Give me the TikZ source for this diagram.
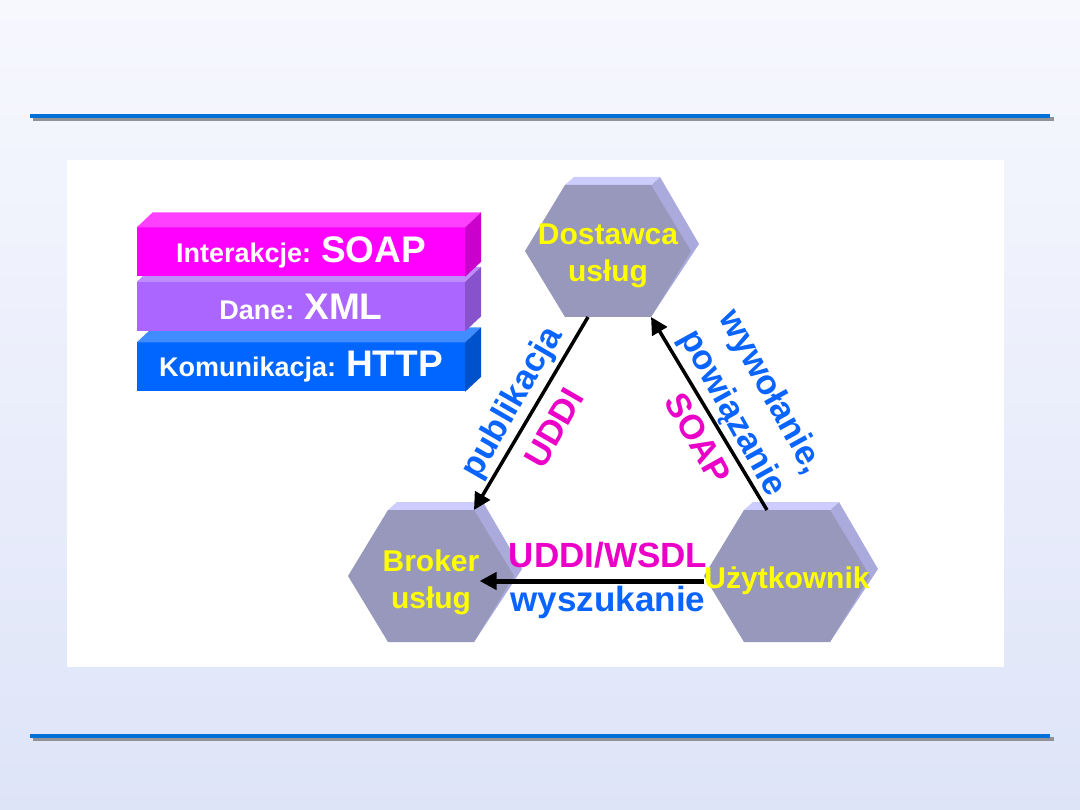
\documentclass[tikz,border=0pt]{standalone}
\usepackage{fontspec}
\setmainfont{Liberation Sans}
\usetikzlibrary{arrows.meta, positioning, calc}
\definecolor{slidetop}{RGB}{247,248,254}
\definecolor{slidebot}{RGB}{222,228,248}
\definecolor{rulecol}{RGB}{0,112,216}
\definecolor{rulesh}{RGB}{145,145,150}
\definecolor{hexfront}{RGB}{152,152,188}
\definecolor{hextop}{RGB}{204,204,255}
\definecolor{hexside}{RGB}{170,170,221}
\definecolor{hexyellow}{RGB}{255,255,0}
\definecolor{txtblue}{RGB}{10,100,255}
\definecolor{txtpink}{RGB}{235,0,200}
\definecolor{soapcol}{RGB}{255,0,255}
\definecolor{xmlcol}{RGB}{170,102,255}
\definecolor{httpcol}{RGB}{0,102,255}
\newcommand{\layertext}[2]{{\fontsize{27}{30}\selectfont #1: }{\fontsize{37}{40}\selectfont #2}}

\begin{document}
\begin{tikzpicture}[x=1pt, y=-1pt,
  arrow/.style={-{Triangle[length=17pt, width=17pt]}, line width=3.5pt},
  layer/.style={rectangle, minimum width=328pt, minimum height=49pt,
                inner sep=0pt, text=white, font=\bfseries},
  hextext/.style={text=hexyellow, inner sep=0pt, align=center,
                  font=\fontsize{30}{37}\selectfont\bfseries},
  lbl/.style={inner sep=0pt, align=center,
              font=\fontsize{34.5}{44}\selectfont\bfseries},
  hexa/.pic={
    \fill[hexside] (43,-66) -- (52,-74) -- (91,-7) -- (43,66) -- cycle;
    \fill[hextop] (-43,-66) -- (-34,-74) -- (52,-74) -- (43,-66) -- cycle;
    \fill[hexfront] (-83,0) -- (-43,-66) -- (43,-66) -- (83,0)
                    -- (43,66) -- (-43,66) -- cycle;
    \coordinate (-tr) at (43,-66);
    \coordinate (-br) at (43,66);
    \coordinate (-tn) at (-20,-66);
    \coordinate (-bs) at (-20,66);
  }
]

% Slide background
\shade[top color=slidetop, bottom color=slidebot] (0,0) rectangle (1080,810);
\fill[rulesh] (33,117) rectangle (1054,121);
\fill[rulecol] (30,114) rectangle (1050,118);
\fill[rulesh] (33,737) rectangle (1054,741);
\fill[rulecol] (30,734) rectangle (1050,738);
\fill[white] (67,160) rectangle (1004,667);

% Protocol layers
\foreach \n/\c/\yy/\word/\proto in {http/httpcol/367/Komunikacja/HTTP,
                                    xml/xmlcol/306.5/Dane/XML,
                                    soap/soapcol/252/Interakcje/SOAP} {
  \node[layer, fill=\c] (\n) at (301,\yy) {\layertext{\word}{\proto}};
  \fill[\c!75!white] (\n.north west) -- ++(16,-15)
        -- ($(\n.north east)+(16,-15)$) -- (\n.north east) -- cycle;
  \fill[\c!80!black] (\n.north east) -- ++(16,-15)
        -- ($(\n.south east)+(16,-15)$) -- (\n.south east) -- cycle;
}

% Roles
\pic (dost) at (608,251) {hexa};
\pic (brok) at (431,576) {hexa};
\pic (uzyt) at (787,576) {hexa};

\node[hextext] (dosttxt) at (608,256) {Dostawca\\usług};
\node[hextext] (broktxt) at (431,582) {Broker\\usług};
\node[hextext] (uzyttxt) at (787,581) {Użytkownik};

% Arrows
\draw[arrow] (dost-bs) -- (brok-tr);
\draw[arrow] (uzyt-tn) -- (dost-br);
\draw[arrow, line width=5pt] (uzyttxt.west) -- (uzyttxt.west -| broktxt.east);

% Labels
\node[lbl, text=txtblue, rotate=60] (publ) at (513,403) {publikacja};
\node[lbl, text=txtpink, rotate=60] (uddi) at (554,428) {UDDI};
\node[lbl, text=txtblue, rotate=-61] (wyw) at (751,403) {wywołanie,\\powiązanie};
\node[lbl, text=txtpink, rotate=-61] (soapl) at (698,438) {SOAP};
\node[lbl, text=txtpink, font=\fontsize{35}{40}\selectfont\bfseries, anchor=base]
      (wsdl) at (608,567) {UDDI/WSDL};
\node[lbl, text=txtblue, font=\fontsize{35}{40}\selectfont\bfseries, anchor=base]
      (wysz) at (608,611) {wyszukanie};

\end{tikzpicture}
\end{document}
